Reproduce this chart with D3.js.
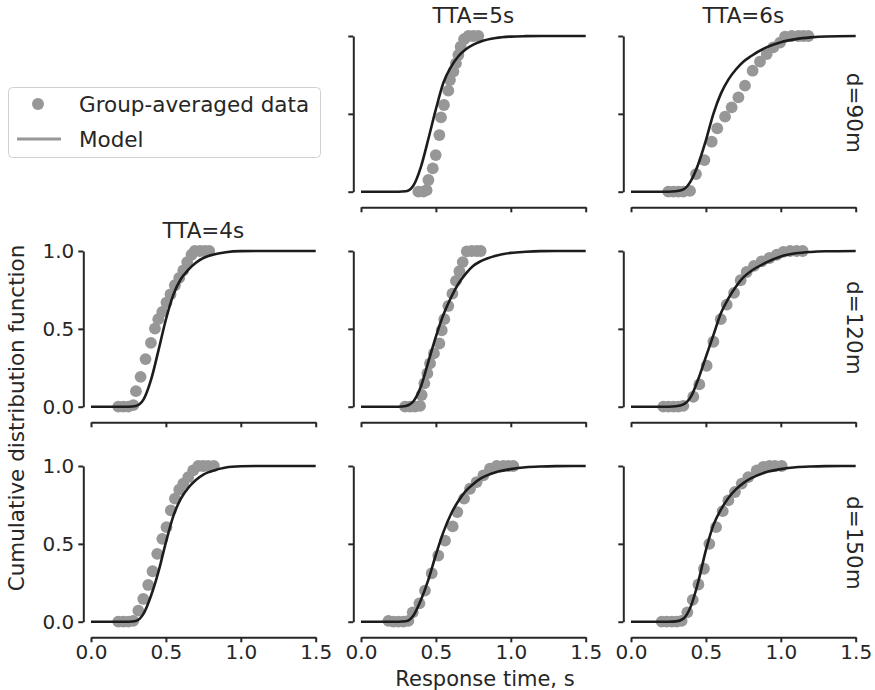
<!DOCTYPE html>
<html><head><meta charset="utf-8">
<script src="https://cdn.jsdelivr.net/npm/d3@7"></script>
<style>
body{margin:0;background:#fff}
text{font-family:"DejaVu Sans",sans-serif;fill:#262626}
</style>
</head><body>
<svg id="c" width="875" height="690"></svg>
<script>
const ttaLabels = ["TTA=4s", "TTA=5s", "TTA=6s"];
const dLabels = ["d=90m", "d=120m", "d=150m"];
const xTicks = [0, 0.5, 1.0, 1.5];
const yTicks = [0, 0.5, 1.0];

// model curve sample points (x, shared)
const modelX = [0,0.2,0.25,0.3,0.35,0.4,0.45,0.5,0.55,0.6,0.65,0.7,0.75,0.8,0.9,1.0,1.1,1.2,1.3,1.5];
const m5_90  = [0,0,0,0.003,0.04,0.16,0.34,0.53,0.7,0.8,0.87,0.915,0.945,0.965,0.987,0.996,0.999,1,1,1];
const m6_90  = [0,0,0,0.003,0.015,0.07,0.18,0.33,0.5,0.63,0.72,0.785,0.835,0.87,0.925,0.96,0.98,0.991,0.997,1];
const m4_120 = [0,0,0,0.005,0.045,0.17,0.36,0.56,0.72,0.82,0.88,0.925,0.955,0.973,0.992,0.999,1,1,1,1];
const m5_120 = [0,0,0,0.005,0.035,0.13,0.29,0.45,0.59,0.7,0.79,0.855,0.905,0.935,0.97,0.988,0.995,0.999,1,1];
const m6_120 = [0,0,0,0.003,0.015,0.065,0.18,0.32,0.46,0.6,0.695,0.77,0.83,0.87,0.925,0.965,0.985,0.994,0.998,1];
const m4_150 = [0,0,0,0.005,0.05,0.165,0.32,0.51,0.68,0.79,0.86,0.91,0.945,0.965,0.99,0.998,1,1,1,1];
const m5_150 = [0,0,0,0.003,0.04,0.14,0.27,0.43,0.575,0.69,0.775,0.84,0.885,0.92,0.96,0.98,0.992,0.997,0.999,1];
const m6_150 = [0,0,0,0.002,0.02,0.1,0.26,0.46,0.62,0.72,0.795,0.85,0.89,0.92,0.96,0.98,0.992,0.997,0.999,1];

// group-averaged data
const d5_90_x = [0.383,0.416,0.438,0.45,0.479,0.499,0.523,0.534,0.554,0.583,0.594,0.617,0.634,0.65,0.665,0.688,0.717,0.75,0.783];
const d5_90_y = [0,0,0.01,0.075,0.15,0.235,0.364,0.477,0.557,0.649,0.717,0.771,0.824,0.878,0.931,0.979,1,1,1];
const d6_90_x = [0.249,0.283,0.316,0.349,0.394,0.434,0.49,0.539,0.576,0.628,0.672,0.717,0.761,0.812,0.861,0.906,0.95,0.995,1.028,1.073,1.117,1.151,1.184];
const d6_90_y = [0,0,0,0,0.005,0.113,0.203,0.321,0.407,0.482,0.542,0.606,0.681,0.777,0.835,0.884,0.927,0.957,0.996,1,1,1,1];
const d4_120_x = [0.182,0.216,0.249,0.282,0.3,0.331,0.364,0.4,0.427,0.449,0.476,0.504,0.531,0.56,0.589,0.616,0.642,0.671,0.693,0.727,0.76,0.789];
const d4_120_y = [0,0,0,0.01,0.1,0.192,0.306,0.41,0.502,0.562,0.609,0.669,0.722,0.78,0.827,0.876,0.929,0.976,1,1,1,1];
const d5_120_x = [0.294,0.327,0.361,0.394,0.405,0.423,0.443,0.461,0.487,0.523,0.539,0.556,0.583,0.61,0.634,0.657,0.679,0.706,0.739,0.772,0.799];
const d5_120_y = [0,0,0,0.005,0.075,0.15,0.214,0.278,0.342,0.406,0.491,0.562,0.647,0.726,0.808,0.87,0.929,0.998,1,1,1];
const d6_120_x = [0.216,0.249,0.283,0.316,0.349,0.416,0.456,0.505,0.55,0.599,0.639,0.688,0.732,0.772,0.821,0.872,0.924,0.973,1.017,1.062,1.106,1.146];
const d6_120_y = [0,0,0,0,0.005,0.064,0.143,0.263,0.417,0.562,0.656,0.731,0.812,0.865,0.904,0.934,0.955,0.976,0.994,1,1,1];
const d4_150_x = [0.182,0.216,0.249,0.282,0.316,0.349,0.382,0.411,0.442,0.476,0.504,0.533,0.56,0.589,0.616,0.649,0.682,0.716,0.749,0.782,0.82];
const d4_150_y = [0,0,0,0.005,0.071,0.146,0.236,0.324,0.436,0.532,0.607,0.715,0.79,0.848,0.886,0.929,0.972,1,1,1,1];
const d5_150_x = [0.183,0.216,0.249,0.283,0.316,0.345,0.39,0.427,0.472,0.516,0.561,0.612,0.643,0.688,0.728,0.772,0.817,0.861,0.906,0.95,0.984,1.017];
const d5_150_y = [0.005,0,0,0,0.005,0.06,0.118,0.2,0.311,0.425,0.521,0.612,0.704,0.79,0.854,0.897,0.94,0.983,1,1,1,1];
const d6_150_x = [0.205,0.238,0.272,0.305,0.338,0.376,0.412,0.45,0.487,0.523,0.568,0.612,0.65,0.694,0.739,0.783,0.839,0.884,0.924,0.961,1.006];
const d6_150_y = [0,0,0,0,0.005,0.06,0.14,0.239,0.34,0.5,0.607,0.71,0.779,0.833,0.887,0.929,0.972,0.995,1,1,1];

const panels = [
  {r:0,c:1,dx:d5_90_x,dy:d5_90_y,m:m5_90},
  {r:0,c:2,dx:d6_90_x,dy:d6_90_y,m:m6_90},
  {r:1,c:0,dx:d4_120_x,dy:d4_120_y,m:m4_120},
  {r:1,c:1,dx:d5_120_x,dy:d5_120_y,m:m5_120},
  {r:1,c:2,dx:d6_120_x,dy:d6_120_y,m:m6_120},
  {r:2,c:0,dx:d4_150_x,dy:d4_150_y,m:m4_150},
  {r:2,c:1,dx:d5_150_x,dy:d5_150_y,m:m5_150},
  {r:2,c:2,dx:d6_150_x,dy:d6_150_y,m:m6_150}
];

const svg = d3.select("#c");
const colX0 = c => 91 + 270*c, panelW = 224.7;
const rowY0 = r => 191.7 + 215*r, panelH = 155.7;
const ptColor = "#979797", lineColor = "#1c1c1c", axColor = "#262626";
const FS_TICK = 20, FS = 21.5;

panels.forEach(p => {
  const x = d3.scaleLinear().domain([0,1.5]).range([colX0(p.c), colX0(p.c)+panelW]);
  const y = d3.scaleLinear().domain([0,1]).range([rowY0(p.r), rowY0(p.r)-panelH]);
  const g = svg.append("g");
  const ya = g.append("g").attr("transform",`translate(${colX0(p.c)-7.7},0)`)
    .call(d3.axisLeft(y).tickValues(yTicks).tickSize(5).tickSizeOuter(0).tickPadding(4)
      .tickFormat(p.c===0 ? d3.format(".1f") : () => ""));
  const xa = g.append("g").attr("transform",`translate(0,${rowY0(p.r)+15.6})`)
    .call(d3.axisBottom(x).tickValues(xTicks).tickSize(5).tickSizeOuter(0).tickPadding(3)
      .tickFormat(p.r===2 ? d3.format(".1f") : () => ""));
  [ya, xa].forEach(a => {
    a.selectAll("path,line").attr("stroke",axColor).attr("stroke-width",2);
    a.selectAll("text").attr("font-size",FS_TICK).attr("font-family","DejaVu Sans").attr("fill",axColor);
  });
  g.append("g").selectAll("circle").data(p.dx.map((v,i)=>[v,p.dy[i]])).join("circle")
    .attr("cx",d=>x(d[0])).attr("cy",d=>y(d[1])).attr("r",5.9).attr("fill",ptColor);
  const line = d3.line().x((d,i)=>x(modelX[i])).y(d=>y(d)).curve(d3.curveMonotoneX);
  g.append("path").attr("d",line(p.m)).attr("fill","none").attr("stroke",lineColor).attr("stroke-width",2.6);
});

// column titles
ttaLabels.forEach((t,c) => {
  const r = c===0 ? 1 : 0;
  svg.append("text").attr("x",colX0(c)+panelW/2).attr("y",rowY0(r)-panelH-13)
    .attr("text-anchor","middle").attr("font-size",FS).text(t);
});
// row labels
dLabels.forEach((t,r) => {
  const cy = rowY0(r)-panelH/2 - 1;
  svg.append("text").attr("transform",`translate(847,${cy}) rotate(90)`)
    .attr("text-anchor","middle").attr("font-size",FS).text(t);
});
// axis labels
svg.append("text").attr("transform","translate(24,418) rotate(-90)")
  .attr("text-anchor","middle").attr("font-size",FS).text("Cumulative distribution function");
svg.append("text").attr("x",485).attr("y",686).attr("text-anchor","middle")
  .attr("font-size",21).text("Response time, s");

// legend
const lg = svg.append("g");
lg.append("rect").attr("x",8.5).attr("y",87.5).attr("width",312).attr("height",70).attr("rx",4)
  .attr("fill","#fff").attr("stroke","#d0d0d0").attr("stroke-width",1);
lg.append("circle").attr("cx",38).attr("cy",104).attr("r",6).attr("fill",ptColor);
lg.append("line").attr("x1",17).attr("x2",61).attr("y1",139).attr("y2",139)
  .attr("stroke",ptColor).attr("stroke-width",3);
lg.append("text").attr("x",79).attr("y",112).attr("font-size",FS).text("Group-averaged data");
lg.append("text").attr("x",79).attr("y",147).attr("font-size",FS).text("Model");
</script>
</body></html>
